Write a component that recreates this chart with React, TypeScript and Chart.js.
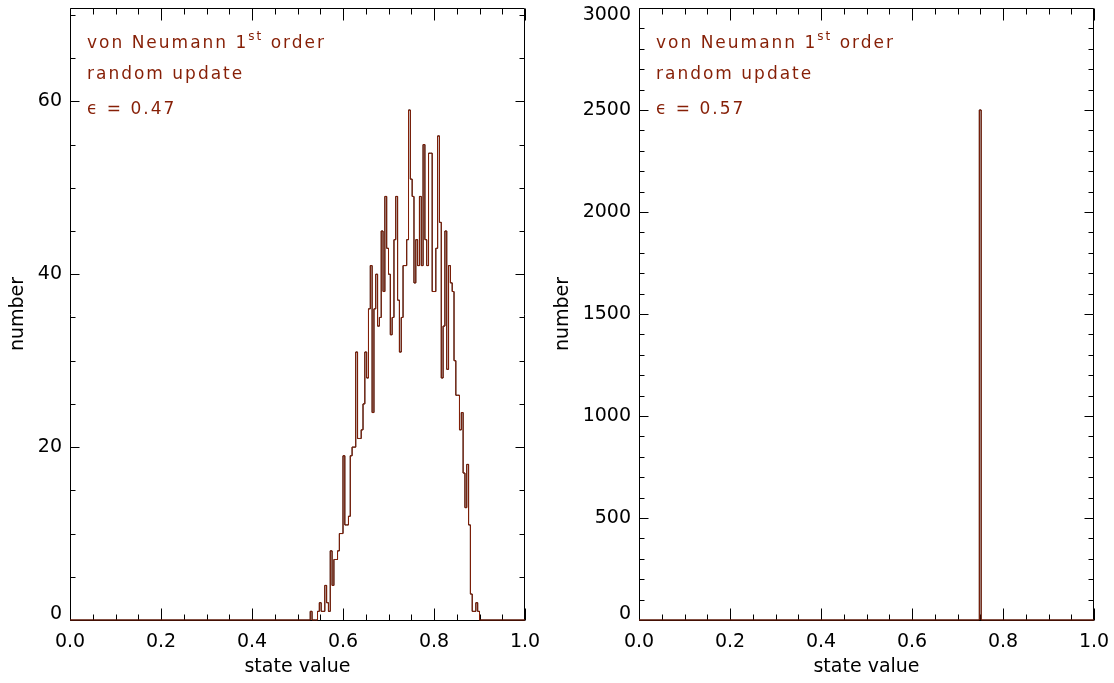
import React, { useEffect, useRef } from "react";
import { Chart, registerables } from "chart.js";

Chart.register(...registerables);
Chart.defaults.font.family = "'DejaVu Sans', sans-serif";
Chart.defaults.font.size = 19;
Chart.defaults.color = "#000";

const BROWN = "#861f06";
const BIN_WIDTH = 0.004;

// left panel: counts per bin, starting at state value 0.528
const leftFirstBin = 0.528;
const leftCounts = [
  1, 0, 0, 0, 1, 2, 1, 1, 4, 2, 1, 8, 4, 7, 7, 8, 10, 10,
  19, 11, 11, 12, 19, 20, 20,
  31, 21, 21, 22, 25, 31, 28, 36, 41, 24,
  36, 40, 34, 35, 45, 38, 49, 43, 40, 33,
  35, 44, 49, 37, 31, 35, 41, 41, 44, 59,
  51, 49, 39, 44, 41, 49, 41, 55, 44, 41,
  54, 54, 38, 38, 43, 56, 46, 28, 34, 45,
  29, 41, 39, 38, 30, 26,
  26, 22, 24, 17, 13, 18, 11, 3, 1, 1, 2, 1,
];

// right panel: a single populated bin
const rightFirstBin = 0.748;
const rightCounts = [2500];

const xTickValues = [0, 0.2, 0.4, 0.6, 0.8, 1.0];
const leftYTicks = [0, 20, 40, 60];
const rightYTicks = [0, 500, 1000, 1500, 2000, 2500, 3000];
const leftYMax = 70.8;
const rightYMax = 3000;
const leftEpsilon = "0.47";
const rightEpsilon = "0.57";

function stepPoints(first: number, counts: number[]) {
  const pts: { x: number; y: number }[] = [{ x: 0, y: 0 }];
  counts.forEach((c, i) => pts.push({ x: +(first + i * BIN_WIDTH).toFixed(4), y: c }));
  pts.push({ x: +(first + counts.length * BIN_WIDTH).toFixed(4), y: 0 });
  pts.push({ x: 1, y: 0 });
  return pts;
}

const framePlugin = {
  id: "frame",
  beforeDatasetsDraw(chart: any, _args: any, opts: any) {
    const { ctx, chartArea: a, scales } = chart;
    const xs = scales.x;
    const ys = scales.y;
    ctx.save();
    ctx.strokeStyle = "#000";
    ctx.lineWidth = 1;
    const L = Math.round(a.left) + 0.5;
    const R = Math.round(a.right) - 0.5;
    const T = Math.round(a.top) + 0.5;
    const B = Math.round(a.bottom) + 0.5;
    ctx.beginPath();
    ctx.rect(L, T, R - L, B - T);
    const xMinor = opts.xMinor as number;
    const xMajor = opts.xMajor as number;
    for (let i = 0; i * xMinor <= 1 + 1e-9; i++) {
      const v = i * xMinor;
      const px = Math.round(xs.getPixelForValue(v)) + 0.5;
      const major = Math.abs(v / xMajor - Math.round(v / xMajor)) < 1e-6;
      const len = major ? 12 : 6;
      ctx.moveTo(px, B);
      ctx.lineTo(px, B - len);
      ctx.moveTo(px, T);
      ctx.lineTo(px, T + len);
    }
    const yMinor = opts.yMinor as number;
    const yMajor = opts.yMajor as number;
    for (let i = 0; i * yMinor <= ys.max + 1e-9; i++) {
      const v = i * yMinor;
      const py = Math.round(ys.getPixelForValue(v)) + 0.5;
      const major = Math.abs(v / yMajor - Math.round(v / yMajor)) < 1e-6;
      const len = major ? 9 : 5;
      ctx.moveTo(L, py);
      ctx.lineTo(L + len, py);
      ctx.moveTo(R, py);
      ctx.lineTo(R - len, py);
    }
    ctx.stroke();

    // y tick labels, kept inside the vertical extent of the frame
    ctx.fillStyle = "#000";
    ctx.font = "19px 'DejaVu Sans'";
    ctx.textAlign = "right";
    ctx.textBaseline = "middle";
    for (const t of ys.ticks) {
      let py = ys.getPixelForValue(t.value);
      py = Math.min(Math.max(py, a.top + 7), a.bottom - 6);
      ctx.fillText(String(t.value), a.left - 8, py);
    }
    ctx.restore();
  },
};

const annotPlugin = {
  id: "annot",
  afterDraw(chart: any, _args: any, opts: any) {
    const { ctx, chartArea: a } = chart;
    const x0 = a.left + 17;
    const y0 = a.top + 40;
    ctx.save();
    ctx.fillStyle = BROWN;
    ctx.textBaseline = "alphabetic";
    ctx.textAlign = "left";
    (ctx as any).letterSpacing = "2px";
    const big = "17px 'DejaVu Sans'";
    const small = "12px 'DejaVu Sans'";
    ctx.font = big;
    let x = x0;
    const p1 = "von Neumann 1";
    ctx.fillText(p1, x, y0);
    x += ctx.measureText(p1).width;
    ctx.font = small;
    ctx.fillText("st", x, y0 - 8);
    x += ctx.measureText("st").width;
    ctx.font = big;
    ctx.fillText(" order", x, y0);
    ctx.fillText("random update", x0, y0 + 31);
    ctx.fillText("\u03f5 = " + opts.eps, x0, y0 + 66);
    ctx.restore();
  },
};

type PanelCfg = {
  first: number;
  counts: number[];
  yMax: number;
  yTicks: number[];
  yMinor: number;
  yMajor: number;
  yAxisWidth: number;
  yTitlePad: number;
  padRight: number;
  eps: string;
};

function makeConfig(c: PanelCfg): any {
  const pts = stepPoints(c.first, c.counts);
  return {
    type: "line",
    data: {
      datasets: [
        { data: pts, borderColor: BROWN, borderWidth: 1, pointRadius: 0, stepped: "before", fill: false, clip: 3 },
        { data: pts, borderColor: "#000", borderWidth: 1, pointRadius: 0, stepped: "before", fill: false, clip: 3 },
      ],
    },
    options: {
      responsive: false,
      animation: false,
      devicePixelRatio: 1,
      layout: { padding: { left: 0, right: c.padRight, top: 8, bottom: 0 } },
      plugins: {
        legend: { display: false },
        tooltip: { enabled: false },
        frame: { xMinor: 0.05, xMajor: 0.2, yMinor: c.yMinor, yMajor: c.yMajor },
        annot: { eps: c.eps },
      },
      scales: {
        x: {
          type: "linear",
          min: 0,
          max: 1,
          grid: { display: false, drawTicks: false },
          border: { display: false },
          ticks: {
            padding: 11,
            color: "#000",
            maxRotation: 0,
            autoSkip: false,
            callback: (v: any) => Number(v).toFixed(1),
          },
          afterBuildTicks: (s: any) => {
            s.ticks = xTickValues.map((v) => ({ value: v }));
          },
          afterFit: (s: any) => {
            s.height = 63;
            s.paddingLeft = 0;
            s.paddingRight = 0;
          },
          title: { display: true, text: "state value", color: "#000", padding: { top: 0, bottom: 5 } },
        },
        y: {
          type: "linear",
          min: 0,
          max: c.yMax,
          grid: { display: false, drawTicks: false },
          border: { display: false },
          ticks: { display: false },
          afterBuildTicks: (s: any) => {
            s.ticks = c.yTicks.map((v) => ({ value: v }));
          },
          afterFit: (s: any) => {
            s.width = c.yAxisWidth;
            s.paddingTop = 0;
            s.paddingBottom = 0;
          },
          title: { display: true, text: "number", color: "#000", padding: { top: c.yTitlePad, bottom: 0 } },
        },
      },
    },
    plugins: [framePlugin, annotPlugin],
  };
}

function Panel({ left, width, cfg }: { left: number; width: number; cfg: PanelCfg }) {
  const ref = useRef<HTMLCanvasElement>(null);
  useEffect(() => {
    const chart = new Chart(ref.current as HTMLCanvasElement, makeConfig(cfg));
    return () => chart.destroy();
  }, []);
  return (
    <canvas
      ref={ref}
      width={width}
      height={683}
      style={{ position: "absolute", left, top: 0, width, height: 683 }}
    />
  );
}

const leftCfg: PanelCfg = {
  first: leftFirstBin,
  counts: leftCounts,
  yMax: leftYMax,
  yTicks: leftYTicks,
  yMinor: 5,
  yMajor: 20,
  yAxisWidth: 70,
  yTitlePad: 7,
  padRight: 25,
  eps: leftEpsilon,
};

const rightCfg: PanelCfg = {
  first: rightFirstBin,
  counts: rightCounts,
  yMax: rightYMax,
  yTicks: rightYTicks,
  yMinor: 100,
  yMajor: 500,
  yAxisWidth: 89,
  yTitlePad: 2,
  padRight: 20,
  eps: rightEpsilon,
};

export default function App() {
  return (
    <div style={{ position: "absolute", left: 0, top: 0, width: 1114, height: 683, background: "#fff" }}>
      <Panel left={0} width={550} cfg={leftCfg} />
      <Panel left={550} width={564} cfg={rightCfg} />
    </div>
  );
}
